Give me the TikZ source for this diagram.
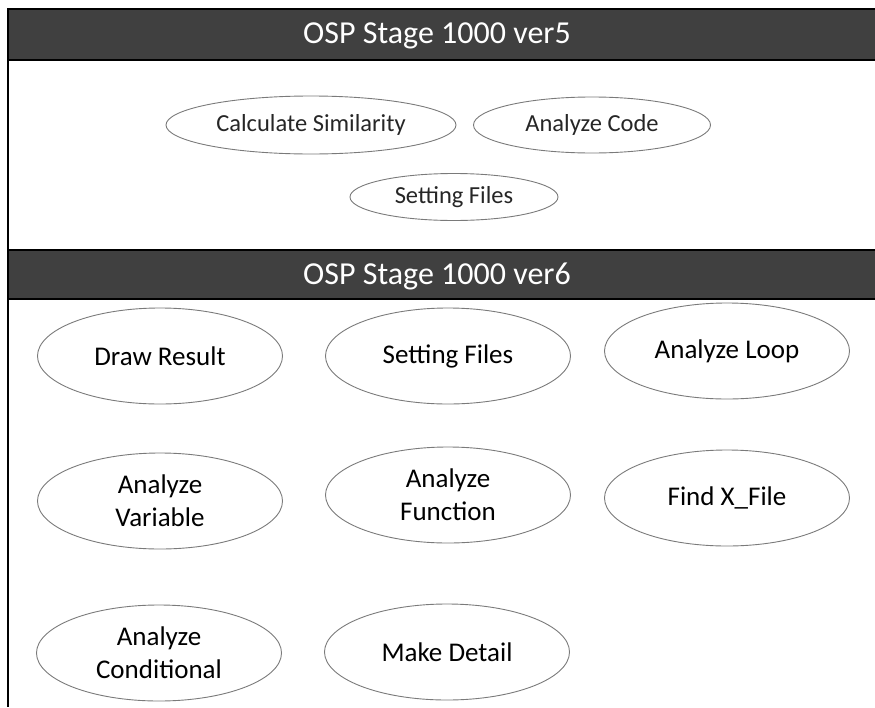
\documentclass[tikz,border=0pt]{standalone}
\usepackage{fontspec}
\setmainfont{Carlito}
\usetikzlibrary{shapes.geometric}
\definecolor{barfill}{HTML}{404040}
\definecolor{ellline}{HTML}{7A7A7A}
\tikzset{
  barbox/.style={fill=barfill, draw=none},
  barline/.style={line width=2pt, draw=black},
  bartext/.style={text=white, font=\fontsize{32}{34}\selectfont, inner sep=0pt},
  smallell/.style={ellipse, draw=ellline, line width=0.9pt, inner sep=0pt,
    font=\fontsize{24.5}{28}\selectfont, text=black!85},
  bigell/.style={ellipse, draw=ellline, line width=0.9pt, inner sep=0pt,
    minimum width=245pt, minimum height=96pt, align=center,
    font=\fontsize{27}{33}\selectfont, text=black},
}
\begin{document}
\begin{tikzpicture}[x=1pt,y=-1pt]
\useasboundingbox (0,0) rectangle (875,707);
% header bars
\fill[barbox] (8,9) rectangle (875,60);
\draw[barline] (7,9) -- (875,9);
\draw[barline] (8,60) -- (875,60);
\fill[barbox] (8,250) rectangle (875,299);
\draw[barline] (8,250) -- (875,250);
\draw[barline] (8,299) -- (875,299);
\draw[barline] (8,8) -- (8,707);
\node[bartext] (t5) at (437,36) {OSP Stage 1000 ver5};
\node[bartext] (t6) at (437,276) {OSP Stage 1000 ver6};
% ver5
\node[smallell, minimum width=290pt, minimum height=58pt] (cs) at (311,125) {Calculate Similarity};
\node[smallell, minimum width=237pt, minimum height=56pt] (ac) at (592,125) {Analyze Code};
\node[smallell, minimum width=208pt, minimum height=47pt] (sf5) at (454,197) {Setting Files};
% ver6
\node[bigell] (dr) at (160,356) {Draw Result};
\node[bigell] (sf6) at (448,356) {Setting Files};
\node[bigell] (al) at (727,351) {Analyze Loop};
\node[bigell] (av) at (160,501) {Analyze\\Variable};
\node[bigell] (af) at (448,495) {Analyze\\Function};
\node[bigell] (fx) at (727,498) {Find X\_File};
\node[bigell] (acd) at (159,653) {Analyze\\Conditional};
\node[bigell] (md) at (447,652) {Make Detail};
\end{tikzpicture}
\end{document}
